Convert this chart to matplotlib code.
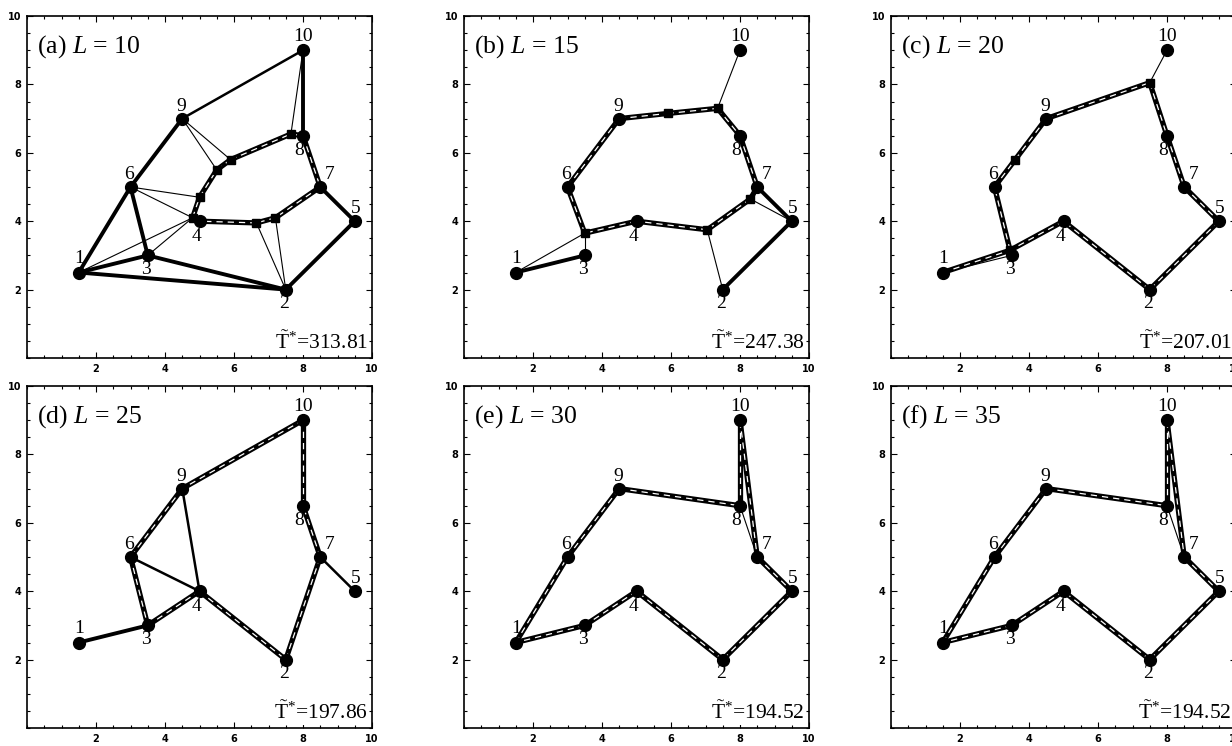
import matplotlib
matplotlib.use('Agg')
import matplotlib.pyplot as plt
from matplotlib.ticker import MultipleLocator, FixedLocator

plt.rcParams['mathtext.fontset'] = 'custom'
plt.rcParams['mathtext.rm'] = 'Liberation Serif'
plt.rcParams['mathtext.it'] = 'Liberation Serif:italic'
plt.rcParams['font.family'] = ['Liberation Serif', 'DejaVu Serif']

# ---- data ----
node_ids = [1, 2, 3, 4, 5, 6, 7, 8, 9, 10]
node_x = [1.5, 7.5, 3.5, 5.0, 9.5, 3.0, 8.5, 8.0, 4.5, 8.0]
node_y = [2.5, 2.0, 3.0, 4.0, 4.0, 5.0, 5.0, 6.5, 7.0, 9.0]

panel_tags = ['a', 'b', 'c', 'd', 'e', 'f']
L_values = [10, 15, 20, 25, 30, 35]
T_values = ['313.81', '247.38', '207.01', '197.86', '194.52', '194.52']

hubs_a = {'A': (4.8, 4.1), 'B': (5.0, 4.7), 'C': (5.5, 5.5), 'D': (5.9, 5.8),
          'E': (7.65, 6.55), 'F': (6.65, 3.95), 'G': (7.2, 4.1)}
route_a = [(4, 'A'), ('A', 'B'), ('B', 'C'), ('C', 'D'), ('D', 'E'), ('E', 8),
           (8, 7), (7, 'G'), ('G', 'F'), ('F', 4)]
thick_a = [(1, 6), (6, 9), (10, 8), (7, 5), (5, 2), (2, 3), (1, 2), (1, 3), (6, 3)]
medium_a = [(9, 10)]
thin_a = [(10, 'E'), (9, 'D'), (9, 'C'), (6, 'B'), (6, 'A'), (1, 'A'), (3, 'A'),
          ('F', 2), ('G', 2)]

hubs_b = {'P': (3.5, 3.65), 'Q': (5.9, 7.15), 'R': (7.35, 7.3), 'S': (7.05, 3.75),
          'T': (8.3, 4.65)}
route_b = [(6, 9), (9, 'Q'), ('Q', 'R'), ('R', 8), (8, 7), (7, 'T'), ('T', 'S'),
           ('S', 4), (4, 'P'), ('P', 6)]
thick_b = [(1, 3), (7, 5), (5, 2)]
medium_b = []
thin_b = [(1, 'P'), (3, 'P'), ('R', 10), ('S', 2), ('T', 5)]

hubs_c = {'U': (7.5, 8.05), 'V': (3.6, 5.8), 'W': (3.45, 3.15)}
route_c = [(1, 'W'), ('W', 6), (6, 'V'), ('V', 9), (9, 'U'), ('U', 8), (8, 7),
           (7, 5), (5, 2), (2, 4), (4, 'W')]
thick_c = []
medium_c = []
thin_c = [('U', 10), (1, 3)]

hubs_d = {}
route_d = [(10, 9), (10, 8), (9, 6), (6, 3), (3, 4), (4, 2), (2, 7), (7, 8)]
thick_d = [(1, 3)]
medium_d = [(7, 5), (9, 4), (6, 4)]
thin_d = []

hubs_e = {}
route_e = [(1, 6), (6, 9), (9, 8), (8, 10), (10, 7), (7, 5), (5, 2), (2, 4), (4, 3), (3, 1)]
thick_e = []
medium_e = []
thin_e = [(8, 7)]

hubs_f = {}
route_f = [(1, 6), (6, 9), (9, 8), (8, 10), (10, 7), (7, 5), (5, 2), (2, 4), (4, 3), (3, 1)]
thick_f = []
medium_f = []
thin_f = [(8, 7)]

panels = [
    (hubs_a, route_a, thick_a, medium_a, thin_a),
    (hubs_b, route_b, thick_b, medium_b, thin_b),
    (hubs_c, route_c, thick_c, medium_c, thin_c),
    (hubs_d, route_d, thick_d, medium_d, thin_d),
    (hubs_e, route_e, thick_e, medium_e, thin_e),
    (hubs_f, route_f, thick_f, medium_f, thin_f),
]

# label offsets (points) for node numbers
label_off = {1: (0, 10), 2: (-1, -10), 3: (-1, -10), 4: (-2, -11), 5: (1, 9),
             6: (-1, 9), 7: (7, 9), 8: (-3, -11), 9: (-1, 9), 10: (0, 10)}

# ---- figure ----
W, H = 1232, 746
fig = plt.figure(figsize=(W / 100, H / 100), dpi=100)

col_left = [27, 464, 891]
row_top = [16, 386]
ax_w, ax_h = 345, 342


def pos(key, hubs):
    if isinstance(key, str):
        return hubs[key]
    i = node_ids.index(key)
    return node_x[i], node_y[i]


for k in range(6):
    r, c = divmod(k, 3)
    left = col_left[c] / W
    bottom = (H - row_top[r] - ax_h) / H
    ax = fig.add_axes([left, bottom, ax_w / W, ax_h / H])
    hubs, route, thick, medium, thin = panels[k]

    for a, b in thin:
        (x1, y1), (x2, y2) = pos(a, hubs), pos(b, hubs)
        ax.plot([x1, x2], [y1, y2], color='black', lw=0.8, zorder=2,
                solid_capstyle='round')
    for a, b in medium:
        (x1, y1), (x2, y2) = pos(a, hubs), pos(b, hubs)
        ax.plot([x1, x2], [y1, y2], color='black', lw=1.8, zorder=3,
                solid_capstyle='round')
    for a, b in thick:
        (x1, y1), (x2, y2) = pos(a, hubs), pos(b, hubs)
        ax.plot([x1, x2], [y1, y2], color='black', lw=2.8, zorder=3,
                solid_capstyle='round')
    for a, b in route:
        (x1, y1), (x2, y2) = pos(a, hubs), pos(b, hubs)
        ax.plot([x1, x2], [y1, y2], color='black', lw=3.8, zorder=4,
                solid_capstyle='round')
        ax.plot([x1, x2], [y1, y2], color='white', lw=0.9, zorder=5,
                linestyle=(0, (5, 4)))

    if hubs:
        hx = [v[0] for v in hubs.values()]
        hy = [v[1] for v in hubs.values()]
        ax.plot(hx, hy, 's', color='black', ms=6, zorder=6, linestyle='none')

    ax.plot(node_x, node_y, 'o', color='black', ms=8.5, zorder=7, linestyle='none')
    for nid, x, y in zip(node_ids, node_x, node_y):
        ax.annotate(str(nid), (x, y), xytext=label_off[nid], textcoords='offset points',
                    ha='center', va='center', fontsize=14, zorder=8)

    ax.text(0.3, 9.1, '(%s) $L$ = %d' % (panel_tags[k], L_values[k]),
            fontsize=18.5, ha='left', va='center', zorder=9)
    ax.text(9.88, 0.45, r'$\tilde{\mathrm{T}}^{*}$=' + T_values[k], fontsize=15.5,
            ha='right', va='center', zorder=9,
            bbox=dict(facecolor='white', edgecolor='none', pad=0.5))

    ax.set_xlim(0, 10)
    ax.set_ylim(0, 10)
    ax.xaxis.set_major_locator(FixedLocator([2, 4, 6, 8, 10]))
    ax.yaxis.set_major_locator(FixedLocator([2, 4, 6, 8, 10]))
    ax.xaxis.set_minor_locator(MultipleLocator(0.5))
    ax.yaxis.set_minor_locator(MultipleLocator(0.5))
    ax.tick_params(which='both', direction='in', top=True, right=True,
                   labelsize=7, width=0.8)
    ax.tick_params(which='major', length=4, pad=4)
    ax.tick_params(which='minor', length=2)
    for lab in ax.get_xticklabels() + ax.get_yticklabels():
        lab.set_fontfamily('DejaVu Sans')
        lab.set_fontweight('bold')
    for sp in ax.spines.values():
        sp.set_linewidth(1.2)

fig.savefig('out.png', dpi=100)
